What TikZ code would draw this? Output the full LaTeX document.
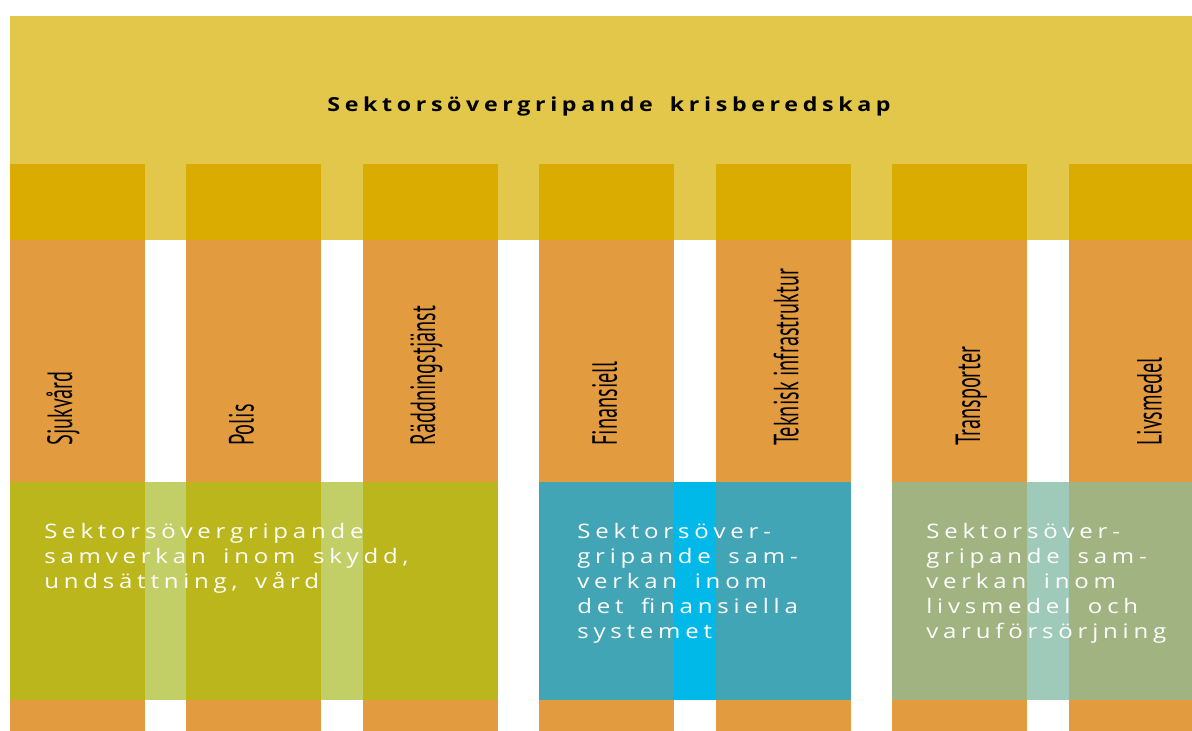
\documentclass[tikz,border=0pt]{standalone}
\usepackage{fontspec}
\setmainfont{Open Sans}
\newfontfamily\widefont[FakeStretch=1.2,LetterSpace=24,WordSpace=1.6]{Open Sans}
\newfontfamily\sectorfont{PT Sans}
\usepackage{graphicx}
\usepackage{xcolor}
\usepackage{tikz}

\definecolor{bandyellow}{HTML}{E3C74A}
\definecolor{headyellow}{HTML}{DAAB00}
\definecolor{sectororange}{HTML}{E39B40}
\definecolor{skyddgreen}{HTML}{BBB61C}
\definecolor{skyddlight}{HTML}{C2CF66}
\definecolor{finansblue}{HTML}{42A5B5}
\definecolor{finanslight}{HTML}{00B9E8}
\definecolor{livsgreen}{HTML}{A2B382}
\definecolor{livslight}{HTML}{9FC9B8}

\begin{document}
\begin{tikzpicture}[x=0.75pt,y=-0.75pt,
    sectorname/.style={rotate=90,anchor=base west,inner sep=0pt,
      font=\sectorfont\fontsize{26.25}{30}\selectfont},
    blocktext/.style={anchor=base west,align=left,inner sep=0pt,text=white,
      font=\widefont\fontsize{15}{18.75}\selectfont}]

    \useasboundingbox (0,0) rectangle (1192,731);
    \clip (0,0) rectangle (1192,731);

    \fill[bandyellow] (9.5,16) rectangle (1192,240);
          % The wide band over all sectors
    \foreach \i in {0,...,6}{% One column per sector
      \fill[headyellow] (9.5+176.5*\i,164) rectangle ++(135,76);
      \fill[sectororange] (9.5+176.5*\i,240) rectangle ++(135,491);
    }

    % Blocks across the columns, the gaps a shade lighter
    \fill[skyddgreen] (9.5,482) rectangle (497.5,700);
    \foreach \i in {0,1}
      \fill[skyddlight] (144.5+176.5*\i,482) rectangle ++(41.5,218);
    \fill[finansblue] (539,482) rectangle (851,700);
    \fill[finanslight] (674,482) rectangle (715.5,700);
    \fill[livsgreen] (892,482) rectangle (1192,700);
    \fill[livslight] (1027,482) rectangle (1068.5,700);

    \node[anchor=base,inner sep=0pt,font=\widefont\bfseries\fontsize{14.5}{17}\selectfont]
      (title) at (609,112) {Sektorsövergripande krisberedskap};

    \foreach \name [count=\i from 0] in {Sjukvård,Polis,Räddningstjänst,Finansiell,%
        Teknisk infrastruktur,Transporter,Livsmedel}
      \node[sectorname] (sector\i) at (72+181.6*\i,446) {\scalebox{0.58}[1]{\name}};

    % base of a node with several lines is its last line
    \node[blocktext] (skydd) at (44,588)
      {Sektorsövergripande\\samverkan inom skydd,\\undsättning, vård};
    \node[blocktext] (finans) at (577,638)
      {Sektorsöver-\\gripande sam-\\verkan inom\\det finansiella\\systemet};
    \node[blocktext] (livs) at (926,638)
      {Sektorsöver-\\gripande sam-\\verkan inom\\livsmedel och\\varuförsörjning};

\end{tikzpicture}
\end{document}
